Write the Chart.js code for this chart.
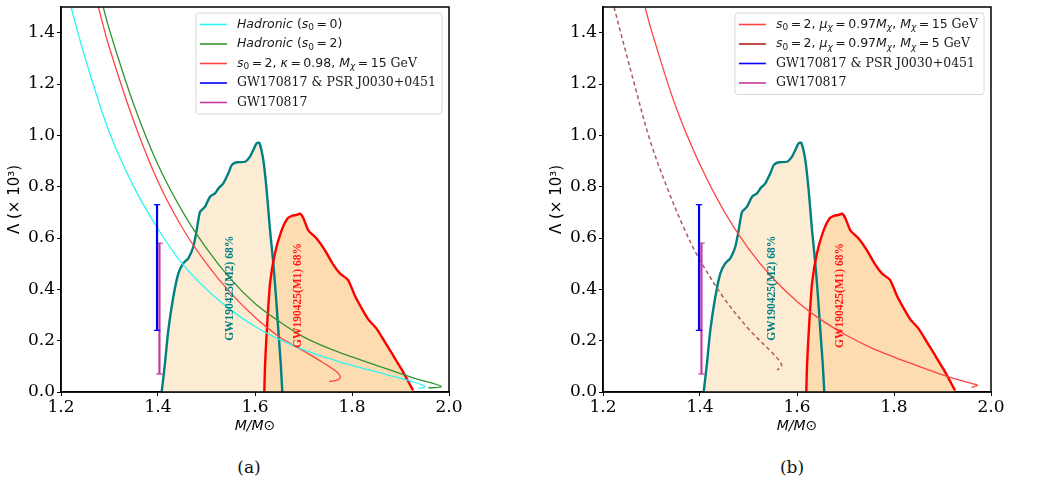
<!DOCTYPE html>
<html>
<head>
<meta charset="utf-8">
<script src="https://cdn.jsdelivr.net/npm/chart.js@4.4.1/dist/chart.umd.min.js"></script>
<style>
  body { margin: 0; background: #fff; width: 1046px; height: 503px; overflow: hidden; position: relative; }
  canvas { position: absolute; top: 0; }
  #chartA { left: 0; }
  #chartB { left: 542px; }
  .cap { position: absolute; top: 457px; line-height: 20px; font: 17px "DejaVu Serif"; color: #111; transform: translateX(-50%); }
</style>
</head>
<body>
<canvas id="chartA" width="480" height="440"></canvas>
<canvas id="chartB" width="480" height="440"></canvas>
<div class="cap" style="left:249px">(a)</div>
<div class="cap" style="left:792px">(b)</div>
<script>
// axis ticks
var massTicks = [1.2, 1.4, 1.6, 1.8, 2.0];
var lambdaTicks = [0, 0.2, 0.4, 0.6, 0.8, 1.0, 1.2, 1.4];

// Hadronic (s0 = 0)
var cyanM = [1.2206, 1.25, 1.30, 1.35, 1.40, 1.45, 1.50, 1.55, 1.60, 1.65, 1.70, 1.75, 1.80, 1.85, 1.90, 1.93, 1.945, 1.9505, 1.947, 1.937];
var cyanL = [1.5, 1.30, 1.01, 0.80, 0.635, 0.50, 0.40, 0.32, 0.255, 0.205, 0.165, 0.132, 0.104, 0.078, 0.054, 0.038, 0.027, 0.021, 0.017, 0.014];
// Hadronic (s0 = 2)
var greenM = [1.287, 1.30, 1.35, 1.40, 1.45, 1.50, 1.55, 1.60, 1.65, 1.70, 1.75, 1.80, 1.85, 1.90, 1.94, 1.97, 1.984, 1.978, 1.957];
var greenL = [1.5, 1.41, 1.12, 0.885, 0.705, 0.56, 0.44, 0.345, 0.275, 0.215, 0.172, 0.137, 0.104, 0.072, 0.047, 0.032, 0.022, 0.018, 0.016];
// s0 = 2, kappa = 0.98, Mchi = 15 GeV
var redAM = [1.277, 1.30, 1.35, 1.40, 1.45, 1.50, 1.55, 1.60, 1.65, 1.70, 1.73, 1.755, 1.77, 1.776, 1.772, 1.753];
var redAL = [1.5, 1.34, 1.055, 0.82, 0.64, 0.50, 0.385, 0.291, 0.215, 0.16, 0.126, 0.097, 0.076, 0.060, 0.048, 0.040];
// s0 = 2, mu = 0.97 Mchi, Mchi = 15 GeV
var redBM = [1.2866, 1.30, 1.35, 1.40, 1.45, 1.50, 1.55, 1.60, 1.65, 1.70, 1.75, 1.80, 1.85, 1.90, 1.94, 1.965, 1.972, 1.960];
var redBL = [1.5, 1.408, 1.112, 0.885, 0.703, 0.559, 0.444, 0.353, 0.281, 0.223, 0.175, 0.136, 0.101, 0.067, 0.044, 0.031, 0.026, 0.018];
// s0 = 2, mu = 0.97 Mchi, Mchi = 5 GeV (dashed)
var brownM = [1.2227, 1.2625, 1.297, 1.3314, 1.3656, 1.396, 1.4474, 1.502, 1.55, 1.566, 1.568, 1.559];
var brownL = [1.5, 1.215, 0.98, 0.80, 0.644, 0.527, 0.371, 0.242, 0.151, 0.115, 0.100, 0.086];

// error bars
var gwPsrM = 1.398, gwPsrL = [0.24, 0.73];
var gwM = 1.403, gwL = [0.07, 0.58];

// GW190425 68% contours
var m2M = [1.4076, 1.4144, 1.4212, 1.4316, 1.442, 1.452, 1.4625, 1.4728, 1.4798, 1.4866, 1.497, 1.5072, 1.5175, 1.5244, 1.5347, 1.545, 1.552, 1.5623, 1.5794, 1.5897, 1.5965, 1.6035, 1.6089, 1.6171, 1.624, 1.631, 1.6377, 1.6433, 1.648, 1.653, 1.6563];
var m2L = [0, 0.112, 0.24, 0.371, 0.462, 0.501, 0.521, 0.566, 0.631, 0.702, 0.722, 0.761, 0.774, 0.793, 0.813, 0.852, 0.884, 0.895, 0.897, 0.917, 0.943, 0.969, 0.971, 0.904, 0.787, 0.631, 0.501, 0.371, 0.242, 0.112, 0];
var m1M = [1.6192, 1.6206, 1.624, 1.631, 1.641, 1.655, 1.667, 1.677, 1.686, 1.693, 1.700, 1.710, 1.727, 1.744, 1.760, 1.775, 1.792, 1.806, 1.820, 1.834, 1.851, 1.866, 1.882, 1.903, 1.918, 1.926];
var m1L = [0, 0.10, 0.228, 0.423, 0.54, 0.631, 0.676, 0.687, 0.69, 0.695, 0.676, 0.630, 0.598, 0.553, 0.500, 0.462, 0.436, 0.375, 0.326, 0.282, 0.246, 0.200, 0.151, 0.086, 0.034, 0.006];

// text labels inside the contours (data coords)
var contourTags = [
  { text: 'GW190425(M2) 68%', m: 1.5485, l: 0.404, color: '#008080' },
  { text: 'GW190425(M1) 68%', m: 1.689, l: 0.376, color: '#ff1a1a' }
];

// legend labels: [style, text]
var EQ = '\u2009=\u2009';
var legendA = [
  [['i', 'Hadronic'], ['n', ' ('], ['i', 's'], ['sub', '0'], ['n', EQ + '0)']],
  [['i', 'Hadronic'], ['n', ' ('], ['i', 's'], ['sub', '0'], ['n', EQ + '2)']],
  [['i', 's'], ['sub', '0'], ['n', EQ + '2, '], ['i', 'κ'], ['n', EQ + '0.98, '], ['i', 'M'], ['subi', 'χ'], ['n', EQ + '15 '], ['r', 'GeV']],
  [['r', 'GW170817 & PSR J0030+0451']],
  [['r', 'GW170817']]
];
var legendB = [
  [['i', 's'], ['sub', '0'], ['n', EQ + '2, '], ['i', 'μ'], ['subi', 'χ'], ['n', EQ + '0.97'], ['i', 'M'], ['subi', 'χ'], ['n', ', '], ['i', 'M'], ['subi', 'χ'], ['n', EQ + '15 '], ['r', 'GeV']],
  [['i', 's'], ['sub', '0'], ['n', EQ + '2, '], ['i', 'μ'], ['subi', 'χ'], ['n', EQ + '0.97'], ['i', 'M'], ['subi', 'χ'], ['n', ', '], ['i', 'M'], ['subi', 'χ'], ['n', EQ + '5 '], ['r', 'GeV']],
  [['r', 'GW170817 & PSR J0030+0451']],
  [['r', 'GW170817']]
];

var C_CYAN = '#2cf6f6', C_GREEN = '#35932f', C_RED = '#ff4444', C_DARKRED = '#b22222',
    C_BROWN = '#b05a5a', C_BLUE = '#0000ff', C_MAG = '#c8389c';

function pts(ms, ls) {
  return ms.map(function (m, i) { return { x: m, y: ls[i] }; });
}

function curve(label, ms, ls, color, extra) {
  return Object.assign({
    label: label, data: pts(ms, ls), borderColor: color, borderWidth: 1.3,
    pointRadius: 0, fill: false, tension: 0.35
  }, extra || {});
}

function errbar(label, m, ls, color) {
  return {
    label: label, data: [{ x: m, y: ls[0] }, { x: m, y: ls[1] }],
    borderColor: color, borderWidth: 2.2, pointStyle: 'line', pointRadius: 3.2,
    pointBorderWidth: 1.2, pointBorderColor: color, fill: false
  };
}

function contours() {
  return [
    { label: 'M1', data: pts(m1M, m1L), borderColor: '#ff0000', borderWidth: 2.4, pointRadius: 0,
      fill: 'origin', backgroundColor: '#fcdcb0', tension: 0.2 },
    { label: 'M2', data: pts(m2M, m2L), borderColor: '#008080', borderWidth: 2.4, pointRadius: 0,
      fill: 'origin', backgroundColor: '#fdecd4', tension: 0.2 }
  ];
}

// rich text helpers for the legend
function partFont(st) {
  if (st === 'i') return { f: 'italic 12.5px "DejaVu Sans"', dy: 0 };
  if (st === 'n') return { f: '12.5px "DejaVu Sans"', dy: 0 };
  if (st === 'r') return { f: '12.5px "DejaVu Serif"', dy: 0 };
  if (st === 'sub') return { f: '9px "DejaVu Sans"', dy: 3.5 };
  return { f: 'italic 9px "DejaVu Sans"', dy: 3.5 };
}
function richWidth(ctx, parts) {
  var w = 0;
  parts.forEach(function (p) { ctx.font = partFont(p[0]).f; w += ctx.measureText(p[1]).width; });
  return w;
}
function drawRich(ctx, parts, x, y) {
  parts.forEach(function (p) {
    var pf = partFont(p[0]);
    ctx.font = pf.f;
    ctx.fillText(p[1], x, y + pf.dy);
    x += ctx.measureText(p[1]).width;
  });
}

var framePlugin = {
  id: 'frame',
  afterDraw: function (chart) {
    var ctx = chart.ctx, a = chart.chartArea;
    ctx.save();
    ctx.strokeStyle = '#000';
    ctx.lineWidth = 1.5;
    ctx.strokeRect(a.left, a.top, a.right - a.left, a.bottom - a.top);
    ctx.restore();
  }
};

var tagPlugin = {
  id: 'tags',
  afterDatasetsDraw: function (chart, args, opts) {
    var ctx = chart.ctx, xs = chart.scales.x, ys = chart.scales.y;
    opts.items.forEach(function (t) {
      ctx.save();
      ctx.translate(xs.getPixelForValue(t.m), ys.getPixelForValue(t.l));
      ctx.rotate(-Math.PI / 2);
      ctx.font = 'bold 11.5px "Liberation Serif"';
      ctx.fillStyle = t.color;
      ctx.textAlign = 'center';
      ctx.textBaseline = 'middle';
      ctx.fillText(t.text, 0, 0);
      ctx.restore();
    });
  }
};

var legendPlugin = {
  id: 'boxLegend',
  afterDraw: function (chart, args, opts) {
    var ctx = chart.ctx, a = chart.chartArea, items = opts.items;
    ctx.save();
    ctx.textBaseline = 'middle';
    var tw = 0;
    items.forEach(function (it) { tw = Math.max(tw, richWidth(ctx, it.parts)); });
    var w = 41 + tw + 6, h = 11 + (items.length - 1) * 19.5 + 12;
    var bx = a.right - 7 - w, by = a.top + 6;
    ctx.fillStyle = 'rgba(255,255,255,0.85)';
    ctx.strokeStyle = '#d8d8d8';
    ctx.lineWidth = 1;
    ctx.beginPath();
    ctx.roundRect(bx, by, w, h, 3);
    ctx.fill();
    ctx.stroke();
    items.forEach(function (it, i) {
      var yy = by + 11.5 + i * 19.5;
      ctx.strokeStyle = it.color;
      ctx.lineWidth = 1.6;
      ctx.beginPath();
      ctx.moveTo(bx + 4, yy);
      ctx.lineTo(bx + 31, yy);
      ctx.stroke();
      ctx.fillStyle = '#1a1a1a';
      drawRich(ctx, it.parts, bx + 41, yy);
    });
    ctx.restore();
  }
};

function makeOptions(legendItems) {
  return {
    responsive: false,
    animation: false,
    devicePixelRatio: 1,
    layout: { padding: { left: 0, top: 7, right: 31, bottom: 0 } },
    plugins: {
      legend: { display: false },
      tooltip: { enabled: false },
      filler: { drawTime: 'beforeDatasetsDraw' },
      tags: { items: contourTags },
      boxLegend: { items: legendItems }
    },
    scales: {
      x: {
        type: 'linear', min: 1.2, max: 2.0,
        afterBuildTicks: function (s) { s.ticks = massTicks.map(function (v) { return { value: v }; }); },
        afterFit: function (s) { s.height = 48; s.paddingLeft = 0; s.paddingRight = 0; },
        ticks: { color: '#000', font: { family: 'DejaVu Serif', size: 17 }, padding: 1, maxRotation: 0, autoSkip: false,
                 callback: function (v) { return v.toFixed(1); } },
        grid: { display: true, drawOnChartArea: false, drawTicks: true, tickLength: 4, color: '#000' },
        border: { display: true, color: '#000', width: 1.5 },
        title: { display: true, text: 'M/M⊙', color: '#000', font: { family: 'DejaVu Sans', size: 14, style: 'italic' },
                 padding: { top: 0, bottom: 5 } }
      },
      y: {
        type: 'linear', min: 0, max: 1.5,
        afterBuildTicks: function (s) { s.ticks = lambdaTicks.map(function (v) { return { value: v }; }); },
        afterFit: function (s) { s.width = 61; s.paddingTop = 0; s.paddingBottom = 0; },
        ticks: { color: '#000', font: { family: 'DejaVu Serif', size: 17 }, padding: 2, autoSkip: false,
                 callback: function (v) { return v.toFixed(1); } },
        grid: { display: true, drawOnChartArea: false, drawTicks: true, tickLength: 4, color: '#000' },
        border: { display: true, color: '#000', width: 1.5 },
        title: { display: true, text: 'Λ (× 10³)', color: '#000', font: { family: 'DejaVu Sans', size: 15 },
                 padding: { top: 6, bottom: 0 } }
      }
    }
  };
}

Chart.defaults.font.family = 'DejaVu Sans';

// panel (a)
new Chart(document.getElementById('chartA').getContext('2d'), {
  type: 'line',
  data: {
    datasets: [
      errbar('GW170817 & PSR J0030+0451', gwPsrM, gwPsrL, C_BLUE),
      errbar('GW170817', gwM, gwL, C_MAG),
      curve('Hadronic (s0 = 0)', cyanM, cyanL, C_CYAN),
      curve('Hadronic (s0 = 2)', greenM, greenL, C_GREEN),
      curve('s0 = 2, kappa = 0.98, Mchi = 15 GeV', redAM, redAL, C_RED)
    ].concat(contours())
  },
  options: makeOptions([
    { color: C_CYAN, parts: legendA[0] },
    { color: C_GREEN, parts: legendA[1] },
    { color: C_RED, parts: legendA[2] },
    { color: C_BLUE, parts: legendA[3] },
    { color: C_MAG, parts: legendA[4] }
  ]),
  plugins: [tagPlugin, framePlugin, legendPlugin]
});

// panel (b)
new Chart(document.getElementById('chartB').getContext('2d'), {
  type: 'line',
  data: {
    datasets: [
      errbar('GW170817 & PSR J0030+0451', gwPsrM, gwPsrL, C_BLUE),
      errbar('GW170817', gwM, gwL, C_MAG),
      curve('s0 = 2, mu = 0.97 Mchi, Mchi = 15 GeV', redBM, redBL, C_RED),
      curve('s0 = 2, mu = 0.97 Mchi, Mchi = 5 GeV', brownM, brownL, C_BROWN, { borderDash: [4, 3], borderWidth: 1.5 })
    ].concat(contours())
  },
  options: makeOptions([
    { color: C_RED, parts: legendB[0] },
    { color: C_DARKRED, parts: legendB[1] },
    { color: C_BLUE, parts: legendB[2] },
    { color: C_MAG, parts: legendB[3] }
  ]),
  plugins: [tagPlugin, framePlugin, legendPlugin]
});
</script>
</body>
</html>
